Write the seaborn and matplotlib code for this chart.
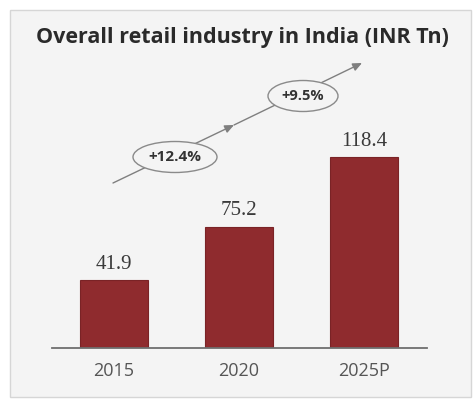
import matplotlib
matplotlib.use("Agg")
import matplotlib.pyplot as plt
import seaborn as sns
import pandas as pd
from matplotlib.patches import Rectangle, Ellipse

categories = ["2015", "2020", "2025P"]
values = [41.9, 75.2, 118.4]
growth_labels = ["+12.4%", "+9.5%"]
title = "Overall retail industry in India (INR Tn)"

df = pd.DataFrame({"year": categories, "value": values})

sns.set_theme(style="white")
plt.rcParams["font.family"] = ["Open Sans", "DejaVu Sans"]

fig = plt.figure(figsize=(4.73, 4.01), dpi=100)
fig.patch.set_facecolor("white")
panel = Rectangle((10 / 473, 4 / 401), 461 / 473, 387 / 401, transform=fig.transFigure,
                  facecolor="#f4f4f4", edgecolor="#d6d6d6", linewidth=1.0, zorder=-5)
fig.patches.append(panel)

ax = fig.add_axes([51.5 / 473, 53 / 401, 375 / 473, 288 / 401])
ax.set_zorder(1)
ax.set_facecolor("none")
ax.patch.set_alpha(0)
bar_color = "#8f2b2e"
sns.barplot(data=df, x="year", y="value", color=bar_color, width=0.54,
            saturation=1, ax=ax, edgecolor="#7a2326", linewidth=0.8)
ax.set_xlim(-0.5, 2.5)
ax.set_ylim(0, 178.5)
for i, v in enumerate(values):
    ax.text(i, v + 4, f"{v:.1f}", ha="center", va="bottom", fontsize=15,
            family="Liberation Serif", color="#3a3a3a")

for s in ["top", "right", "left"]:
    ax.spines[s].set_visible(False)
ax.spines["bottom"].set_color("#6f6f6f")
ax.spines["bottom"].set_linewidth(1.3)
ax.set_yticks([])
ax.set_xlabel("")
ax.set_ylabel("")
ax.tick_params(axis="x", length=0, pad=10, labelsize=13, labelcolor="#555555")

# growth arrow (axes coordinates)
def px(x, y):
    return ((x - 51.5) / 375, (348 - y) / 288)

start, mid, end = px(113, 183), px(234, 125), px(362, 63)
arrow_kw = dict(arrowstyle="-|>,head_length=0.45,head_width=0.2", color="#7f7f7f", lw=1.0,
                shrinkA=0, shrinkB=0)
ax.annotate("", xy=mid, xytext=start, xycoords="axes fraction", textcoords="axes fraction",
            arrowprops=arrow_kw, zorder=2)
ax.annotate("", xy=end, xytext=mid, xycoords="axes fraction", textcoords="axes fraction",
            arrowprops=arrow_kw, zorder=2)

for (cx, cy, w, h, fs), lab in zip([(175, 157, 84, 31, 11), (303, 96, 70, 31, 10.5)], growth_labels):
    c = px(cx, cy)
    e = Ellipse(c, w / 375, h / 288, transform=ax.transAxes, facecolor="#f4f4f4",
                edgecolor="#8a8a8a", linewidth=1.0, zorder=3)
    ax.add_patch(e)
    ax.text(c[0], c[1], lab, transform=ax.transAxes, ha="center", va="center",
            fontsize=fs, fontweight="bold", color="#333333", zorder=4)

fig.text(242.5 / 473, (401 - 38) / 401, title, ha="center", va="center", fontsize=15.5,
         fontweight="bold", color="#2a2a2a")

fig.savefig("out.png", dpi=100)
